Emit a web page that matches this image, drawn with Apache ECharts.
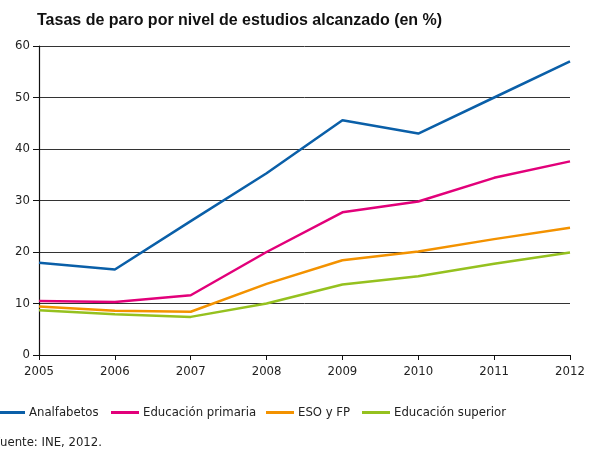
<!DOCTYPE html>
<html>
<head>
<meta charset="utf-8">
<script src="https://cdn.jsdelivr.net/npm/echarts@6/dist/echarts.min.js"></script>
<style>
  html, body { margin: 0; padding: 0; background: #fff; }
  #chart { width: 591px; height: 455px; }
</style>
</head>
<body>
<div id="chart"></div>
<script>
// datos
const years = ['2005', '2006', '2007', '2008', '2009', '2010', '2011', '2012'];
const analfabetos = [17.9, 16.6, 26.0, 35.3, 45.6, 43.0, 50.0, 57.0];
const primaria = [10.5, 10.3, 11.6, 20.0, 27.7, 29.8, 34.4, 37.6];
const esoFp = [9.4, 8.6, 8.4, 13.8, 18.4, 20.1, 22.5, 24.7];
const superior = [8.7, 7.9, 7.4, 10.0, 13.7, 15.3, 17.7, 19.9];
const yTicks = [0, 10, 20, 30, 40, 50, 60];
const seriesNames = ['Analfabetos', 'Educación primaria', 'ESO y FP', 'Educación superior'];
const colors = ['#0a5fa8', '#e2007a', '#f39200', '#95c11f'];

const labelFont = '"DejaVu Sans Condensed", "Liberation Sans", sans-serif';

const chart = echarts.init(document.getElementById('chart'), null, { renderer: 'canvas' });

function line(name, data, color) {
  return {
    name: name,
    type: 'line',
    data: data,
    symbol: 'none',
    lineStyle: { color: color, width: 2.5 },
    itemStyle: { color: color },
    animation: false
  };
}

// una leyenda por serie, cada una en su columna
const legendLefts = [-3, 111, 266, 362];
const legends = seriesNames.map((name, i) => ({
  left: legendLefts[i],
  top: 406,
  padding: 0,
  itemWidth: 28,
  itemHeight: 3,
  itemGap: 0,
  icon: 'rect',
  textStyle: { fontFamily: labelFont, fontSize: 13, color: '#222', padding: [0, 0, 0, -1] },
  data: [name]
}));

chart.setOption({
  animation: false,
  title: {
    text: 'Tasas de paro por nivel de estudios alcanzado (en %)',
    left: 32,
    top: 8,
    textStyle: { fontFamily: '"Liberation Sans", Arial, sans-serif', fontSize: 16, fontWeight: 'bold', color: '#111' }
  },
  grid: { left: 39, right: 21, top: 46, bottom: 100 },
  xAxis: {
    type: 'category',
    data: years,
    boundaryGap: false,
    axisLine: { lineStyle: { color: '#111', width: 1.2 } },
    axisTick: { show: true, length: 5, lineStyle: { color: '#111' } },
    axisLabel: { color: '#222', fontFamily: labelFont, fontSize: 13, margin: 10 },
    splitLine: { show: false }
  },
  yAxis: {
    type: 'value',
    min: yTicks[0],
    max: yTicks[yTicks.length - 1],
    interval: 10,
    axisLine: { show: true, lineStyle: { color: '#111', width: 1.2 } },
    axisTick: { show: true, length: 6, lineStyle: { color: '#111' } },
    axisLabel: { color: '#222', fontFamily: labelFont, fontSize: 13, margin: 9 },
    splitLine: { show: true, lineStyle: { color: '#333', width: 1 } }
  },
  legend: legends,
  graphic: [{
    type: 'text',
    left: -6,
    top: 436,
    style: { text: 'Fuente: INE, 2012.', font: '13px ' + labelFont, fill: '#222' }
  }],
  series: [
    line(seriesNames[0], analfabetos, colors[0]),
    line(seriesNames[1], primaria, colors[1]),
    line(seriesNames[2], esoFp, colors[2]),
    line(seriesNames[3], superior, colors[3])
  ]
});
</script>
</body>
</html>
